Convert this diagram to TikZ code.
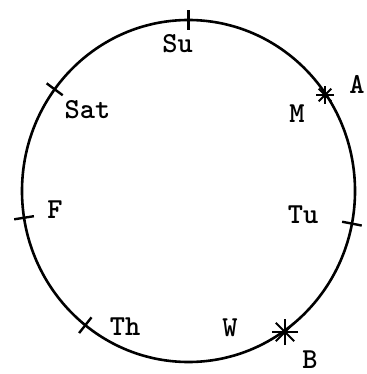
\documentclass[tikz,border=0pt]{standalone}
\usepackage{fontspec}
\usetikzlibrary{calc}
\tikzset{
  rim/.style={line width=2.6pt},
  dtick/.style={line width=2.4pt},
  astx/.style={line width=2pt},
  dlab/.style={font=\fontsize{29}{31}\selectfont\ttfamily\bfseries, inner sep=0pt},
}
\begin{document}
\begin{tikzpicture}[x=1pt,y=-1pt]
  \useasboundingbox (0,0) rectangle (366,374);
  \coordinate (ctr) at (188.5,191);
  \draw[rim] (ctr) ellipse [x radius=166.5pt, y radius=171pt];
  % day ticks on the rim
  \foreach \ang/\nm in {90/su,143.5/sat,189/fr,231.7/th,349/tu} {
    \coordinate (\nm-in) at ($(ctr)+({156.5*cos(\ang)},{-161*sin(\ang)})$);
    \coordinate (\nm-out) at ($(ctr)+({176.5*cos(\ang)},{-181*sin(\ang)})$);
    \draw[dtick] (\nm-in) -- (\nm-out);
  }
  % starred points A and B
  \coordinate (pa) at (325,95);
  \coordinate (pb) at (285,332);
  \foreach \ang in {0,45,90,135} {
    \draw[astx] ($(pa)+(\ang:9)$) -- ($(pa)+(\ang+180:9)$);
    \draw[astx] ($(pb)+(\ang:13)$) -- ($(pb)+(\ang+180:13)$);
  }
  \node[dlab] (lsu)  at (177.5,44) {Su};
  \node[dlab] (lsat) at (87.5,110) {Sat};
  \node[dlab] (lm)   at (297,114)  {M};
  \node[dlab] (la)   at (357,84)   {A};
  \node[dlab] (lf)   at (55,210)   {F};
  \node[dlab] (ltu)  at (303,215)  {Tu};
  \node[dlab] (lth)  at (125,327)  {Th};
  \node[dlab] (lw)   at (230,328)  {W};
  \node[dlab] (lb)   at (310,360)  {B};
\end{tikzpicture}
\end{document}
